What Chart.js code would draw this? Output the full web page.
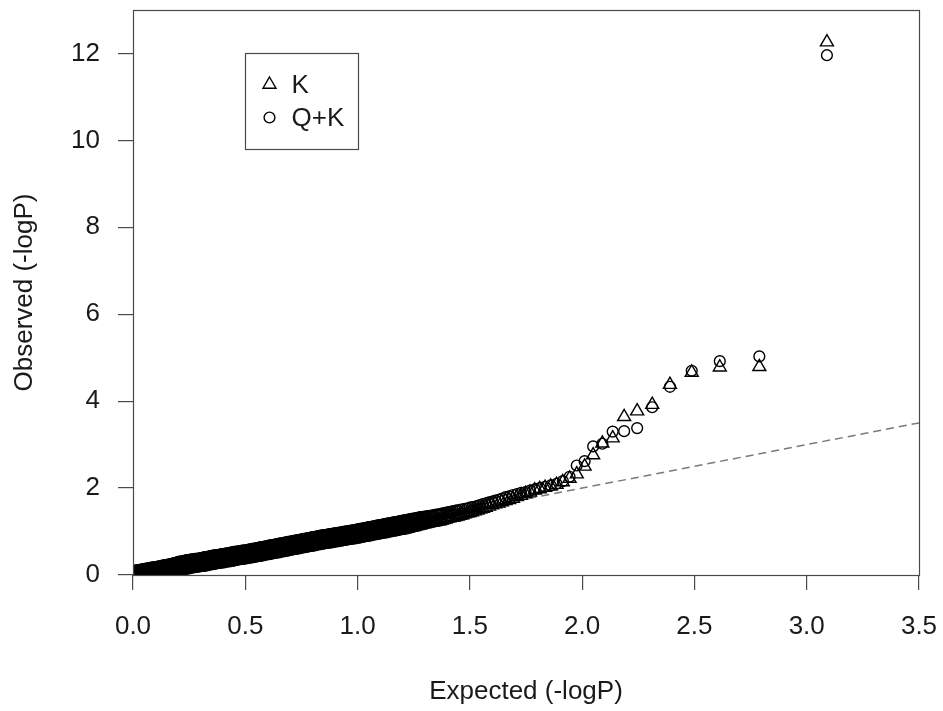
<!DOCTYPE html>
<html>
<head>
<meta charset="utf-8">
<title>Q-Q plot</title>
<script src="https://cdn.jsdelivr.net/npm/chart.js@4.4.1/dist/chart.umd.min.js"></script>
<style>
  html, body { margin: 0; padding: 0; background: #ffffff; }
  canvas { display: block; }
</style>
</head>
<body>
<canvas id="qq" width="943" height="711"></canvas>
<script>
// Expected -log10(P) quantiles, ascending
const expected = [
  0,.005,.01,.015,.02,.025,.03,.035,.04,.045,.05,.055,.06,.065,.07,.075,.08,.085,.09,.095,
  .1,.105,.11,.115,.12,.125,.13,.135,.14,.145,.15,.155,.16,.165,.17,.175,.18,.185,.19,.195,
  .2,.205,.21,.215,.22,.225,.23,.235,.24,.245,.25,.255,.26,.265,.27,.275,.28,.285,.29,.295,
  .3,.305,.31,.315,.32,.325,.33,.335,.34,.345,.35,.355,.36,.365,.37,.375,.38,.385,.39,.395,
  .4,.405,.41,.415,.42,.425,.43,.435,.44,.445,.45,.455,.46,.465,.47,.475,.48,.485,.49,.495,
  .5,.505,.51,.515,.52,.525,.53,.535,.54,.545,.55,.555,.56,.565,.57,.575,.58,.585,.59,.595,
  .6,.605,.61,.615,.62,.625,.63,.635,.64,.645,.65,.655,.66,.665,.67,.675,.68,.685,.69,.695,
  .7,.705,.71,.715,.72,.725,.73,.735,.74,.745,.75,.755,.76,.765,.77,.775,.78,.785,.79,.795,
  .8,.805,.81,.815,.82,.825,.83,.835,.84,.845,.85,.855,.86,.865,.87,.875,.88,.885,.89,.895,
  .9,.905,.91,.915,.92,.925,.93,.935,.94,.945,.95,.955,.96,.965,.97,.975,.98,.985,.99,.995,
  1,1.005,1.01,1.015,1.02,1.025,1.03,1.035,1.04,1.045,1.05,1.055,1.06,1.065,1.07,1.075,1.08,1.085,1.09,1.095,
  1.1,1.105,1.11,1.115,1.12,1.125,1.13,1.135,1.14,1.145,1.15,1.155,1.16,1.165,1.17,1.175,1.18,1.185,1.19,1.195,
  1.2,1.205,1.21,1.215,1.22,1.225,1.23,1.235,1.24,1.245,1.25,1.255,1.26,1.265,1.27,1.275,1.28,1.285,1.29,1.295,
  1.3,
  1.305,1.312,1.319,1.327,1.334,1.342,1.350,1.358,1.366,1.374,
  1.382,1.391,1.400,1.409,1.418,1.427,1.437,1.446,1.456,1.467,
  1.477,1.488,1.499,1.510,1.522,1.534,1.546,1.558,1.571,1.585,
  1.599,1.613,1.628,1.643,1.659,1.675,1.692,1.710,1.728,1.748,
  1.768,1.789,1.811,1.835,1.860,1.886,1.914,1.944,1.976,2.011,
  2.049,2.090,2.136,2.187,2.245,2.312,2.391,2.488,2.613,2.789,
  3.090
];

// Observed -log10(P), kinship model
const observedK = [
  .05,.05,.05,.05,.05,.05,.06,.06,.06,.06,.06,.06,.06,.06,.06,.06,.06,.06,.06,.06,
  .06,.06,.06,.07,.07,.07,.07,.07,.08,.08,.08,.08,.08,.09,.09,.09,.09,.09,.10,.10,
  .10,.10,.11,.11,.12,.12,.13,.13,.14,.14,.15,.15,.16,.16,.16,.17,.17,.17,.18,.18,
  .19,.19,.20,.20,.21,.21,.22,.22,.23,.23,.24,.24,.25,.25,.25,.26,.26,.27,.27,.28,
  .28,.28,.29,.29,.30,.30,.31,.31,.32,.32,.33,.33,.34,.34,.34,.35,.35,.36,.36,.36,
  .37,.37,.38,.38,.39,.39,.40,.40,.41,.41,.42,.42,.43,.43,.44,.44,.45,.45,.46,.46,
  .47,.47,.48,.48,.49,.49,.50,.50,.51,.51,.52,.52,.53,.53,.54,.54,.55,.55,.56,.56,
  .57,.57,.58,.58,.59,.59,.60,.60,.61,.61,.62,.62,.63,.63,.64,.64,.65,.65,.66,.66,
  .67,.67,.68,.68,.69,.69,.70,.70,.71,.71,.71,.72,.72,.73,.73,.74,.74,.74,.75,.75,
  .76,.76,.77,.77,.77,.78,.78,.79,.79,.80,.80,.81,.81,.81,.82,.82,.83,.83,.84,.84,
  .85,.85,.86,.86,.87,.87,.88,.88,.89,.89,.90,.90,.91,.91,.92,.92,.93,.93,.94,.94,
  .95,.95,.96,.96,.97,.97,.98,.98,.99,.99,1.00,1.00,1.01,1.01,1.02,1.02,1.03,1.03,1.04,1.04,
  1.05,1.06,1.06,1.07,1.07,1.08,1.09,1.09,1.10,1.11,1.11,1.12,1.13,1.13,1.14,1.15,1.15,1.16,1.17,1.17,
  1.18,
  1.19,1.19,1.20,1.21,1.21,1.22,1.23,1.24,1.24,1.26,
  1.27,1.28,1.30,1.31,1.32,1.33,1.34,1.35,1.37,1.38,
  1.40,1.42,1.43,1.45,1.47,1.49,1.51,1.53,1.55,1.58,
  1.61,1.63,1.65,1.68,1.71,1.73,1.76,1.80,1.83,1.87,
  1.90,1.95,1.98,2.01,2.04,2.08,2.14,2.22,2.32,2.50,
  2.76,3.03,3.15,3.64,3.77,3.92,4.38,4.66,4.78,4.79,
  12.26
];

// Observed -log10(P), structure + kinship model
const observedQK = [
  .08,.09,.09,.10,.11,.11,.12,.12,.13,.13,.14,.14,.15,.15,.16,.16,.17,.17,.17,.18,
  .18,.19,.19,.20,.20,.21,.21,.22,.22,.23,.23,.24,.24,.25,.25,.26,.27,.27,.28,.28,
  .30,.30,.31,.31,.32,.32,.33,.33,.34,.34,.35,.35,.36,.36,.36,.37,.37,.37,.38,.38,
  .39,.39,.40,.40,.41,.41,.42,.42,.43,.43,.44,.44,.45,.45,.45,.46,.46,.47,.47,.48,
  .48,.48,.49,.49,.50,.50,.51,.51,.52,.52,.53,.53,.54,.54,.54,.55,.55,.56,.56,.56,
  .57,.57,.58,.58,.59,.59,.60,.60,.61,.61,.62,.62,.63,.63,.64,.64,.65,.65,.66,.66,
  .67,.67,.68,.68,.69,.69,.70,.70,.71,.71,.72,.72,.73,.73,.74,.74,.75,.75,.76,.76,
  .77,.77,.78,.78,.79,.79,.80,.80,.81,.81,.82,.82,.83,.83,.84,.84,.85,.85,.86,.86,
  .87,.87,.88,.88,.89,.89,.90,.90,.91,.91,.91,.92,.92,.93,.93,.94,.94,.94,.95,.95,
  .96,.96,.97,.97,.97,.98,.98,.99,.99,1.00,1.00,1.01,1.01,1.01,1.02,1.02,1.03,1.03,1.04,1.04,
  1.05,1.05,1.06,1.06,1.07,1.07,1.08,1.08,1.09,1.09,1.10,1.10,1.11,1.11,1.12,1.12,1.13,1.13,1.14,1.14,
  1.15,1.15,1.16,1.16,1.17,1.17,1.18,1.18,1.19,1.19,1.20,1.20,1.21,1.21,1.22,1.22,1.23,1.23,1.24,1.24,
  1.25,1.25,1.26,1.26,1.27,1.27,1.28,1.28,1.29,1.29,1.30,1.30,1.31,1.31,1.32,1.32,1.33,1.33,1.34,1.34,
  1.34,
  1.35,1.35,1.36,1.36,1.37,1.38,1.39,1.39,1.40,1.41,
  1.42,1.43,1.44,1.45,1.46,1.47,1.48,1.49,1.50,1.51,
  1.52,1.53,1.55,1.56,1.57,1.59,1.61,1.63,1.65,1.67,
  1.69,1.71,1.73,1.76,1.79,1.81,1.84,1.86,1.89,1.91,
  1.94,1.97,2.00,2.03,2.06,2.10,2.16,2.26,2.52,2.62,
  2.96,3.02,3.30,3.31,3.38,3.86,4.33,4.70,4.92,5.03,
  11.96
];

const seriesLabels = ['K', 'Q+K'];
const xTicks = [0, 0.5, 1, 1.5, 2, 2.5, 3, 3.5];
const yTicks = [0, 2, 4, 6, 8, 10, 12];
const refLineX = [0, 3.5];              // y = x reference line end points
const legendAnchor = { x: 0.5, y: 12 }; // legend top-left, data units

const asPoints = ys => expected.map((x, i) => ({ x: x, y: ys[i] }));

const FONT = "'Liberation Sans', Arial, Helvetica, sans-serif";
const TEXT_SIZE = 26;
const INK = '#1a1a1a';
const MARK = '#000000';
const FRAME = '#4a4a4a';
const TRI_R = 7.5;
const CIRC_R = 5.4;
const MARK_W = 1.4;

const whiteBackground = {
  id: 'whiteBackground',
  beforeDraw(chart) {
    const ctx = chart.ctx;
    ctx.save();
    ctx.fillStyle = '#ffffff';
    ctx.fillRect(0, 0, chart.width, chart.height);
    ctx.restore();
  }
};

const plotFrame = {
  id: 'plotFrame',
  afterDatasetsDraw(chart) {
    const { ctx, chartArea: a } = chart;
    ctx.save();
    ctx.strokeStyle = FRAME;
    ctx.lineWidth = 1.2;
    ctx.strokeRect(Math.round(a.left) + 0.5, Math.round(a.top) + 0.5,
                   Math.round(a.right - a.left), Math.round(a.bottom - a.top));
    ctx.restore();
  }
};

function marker(ctx, style, radius, x, y) {
  ctx.beginPath();
  if (style === 'triangle') {
    let rad = 0;
    ctx.moveTo(x + Math.sin(rad) * radius, y - Math.cos(rad) * radius);
    rad += 2 * Math.PI / 3;
    ctx.lineTo(x + Math.sin(rad) * radius, y - Math.cos(rad) * radius);
    rad += 2 * Math.PI / 3;
    ctx.lineTo(x + Math.sin(rad) * radius, y - Math.cos(rad) * radius);
    ctx.closePath();
  } else {
    ctx.arc(x, y, radius, 0, Math.PI * 2);
  }
  ctx.stroke();
}

const boxLegend = {
  id: 'boxLegend',
  afterDraw(chart) {
    const { ctx, scales } = chart;
    const left = Math.round(scales.x.getPixelForValue(legendAnchor.x)) + 0.5;
    const top = Math.round(scales.y.getPixelForValue(legendAnchor.y)) + 0.5;
    const w = 113, h = 96;
    ctx.save();
    ctx.strokeStyle = FRAME;
    ctx.lineWidth = 1.2;
    ctx.strokeRect(left, top, w, h);
    ctx.font = TEXT_SIZE + 'px ' + FONT;
    ctx.textBaseline = 'middle';
    ctx.textAlign = 'left';
    chart.data.datasets.slice(0, 2).forEach((ds, i) => {
      const cy = top + 31 + i * 33;
      ctx.strokeStyle = MARK;
      ctx.lineWidth = ds.pointBorderWidth;
      marker(ctx, ds.pointStyle, ds.pointRadius, left + 24, cy);
      ctx.fillStyle = INK;
      ctx.fillText(ds.label, left + 46, cy + 1);
    });
    ctx.restore();
  }
};

const textFont = { family: FONT, size: TEXT_SIZE };

new Chart(document.getElementById('qq'), {
  type: 'scatter',
  data: {
    datasets: [
      {
        label: seriesLabels[0],
        data: asPoints(observedK),
        pointStyle: 'triangle',
        pointRadius: TRI_R,
        pointBorderWidth: MARK_W,
        borderColor: MARK,
        backgroundColor: 'rgba(0,0,0,0)',
        pointBackgroundColor: 'rgba(0,0,0,0)',
        clip: 0
      },
      {
        label: seriesLabels[1],
        data: asPoints(observedQK),
        pointStyle: 'circle',
        pointRadius: CIRC_R,
        pointBorderWidth: MARK_W,
        borderColor: MARK,
        backgroundColor: 'rgba(0,0,0,0)',
        pointBackgroundColor: 'rgba(0,0,0,0)',
        clip: 0
      },
      {
        type: 'line',
        label: 'y = x',
        data: refLineX.map(v => ({ x: v, y: v })),
        borderColor: '#7a7a7a',
        borderWidth: 1.5,
        borderDash: [8, 5],
        pointRadius: 0,
        fill: false,
        clip: 0
      }
    ]
  },
  options: {
    responsive: false,
    animation: false,
    devicePixelRatio: 1,
    layout: { padding: { top: 10, right: 24, left: 0, bottom: 0 } },
    plugins: {
      legend: { display: false },
      tooltip: { enabled: false }
    },
    scales: {
      x: {
        type: 'linear',
        min: 0,
        max: 3.5,
        afterBuildTicks: s => { s.ticks = xTicks.map(v => ({ value: v })); },
        afterFit: s => { s.height = 136; s.paddingLeft = 0; s.paddingRight = 0; },
        ticks: {
          callback: v => Number(v).toFixed(1),
          font: textFont,
          color: INK,
          padding: 21,
          maxRotation: 0,
          autoSkip: false
        },
        grid: { drawOnChartArea: false, drawTicks: true, tickLength: 15, color: FRAME, lineWidth: 1.2 },
        border: { display: false },
        title: {
          display: true,
          text: 'Expected (-logP)',
          font: textFont,
          color: INK,
          padding: { top: 0, bottom: 4 }
        }
      },
      y: {
        type: 'linear',
        min: 0,
        max: 13,
        afterBuildTicks: s => { s.ticks = yTicks.map(v => ({ value: v })); },
        afterFit: s => { s.width = 133; s.paddingTop = 0; s.paddingBottom = 0; },
        ticks: {
          callback: v => String(v),
          font: textFont,
          color: INK,
          padding: 18,
          autoSkip: false
        },
        grid: { drawOnChartArea: false, drawTicks: true, tickLength: 15, color: FRAME, lineWidth: 1.2 },
        border: { display: false },
        title: {
          display: true,
          text: 'Observed (-logP)',
          font: textFont,
          color: INK,
          padding: { top: 9, bottom: 0 }
        }
      }
    }
  },
  plugins: [whiteBackground, plotFrame, boxLegend]
});
</script>
</body>
</html>
